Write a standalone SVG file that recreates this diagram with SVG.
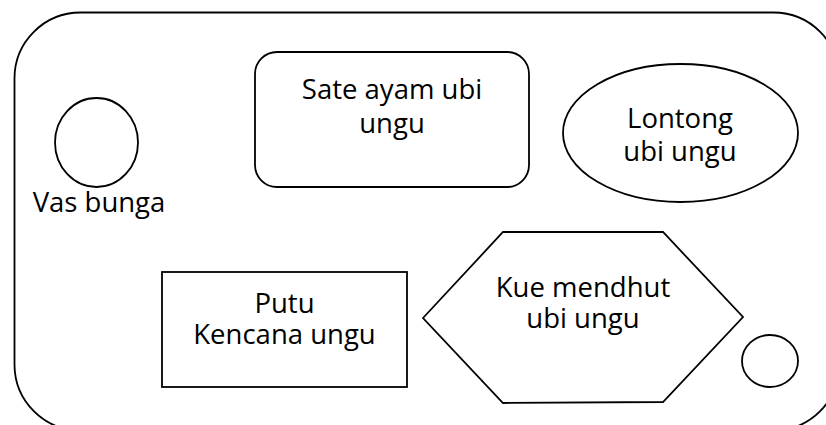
<svg xmlns="http://www.w3.org/2000/svg" width="826" height="425" viewBox="0 0 826 425">
<style>
.s{fill:#fff;stroke:#000;stroke-width:1.8}
.t{font-family:"Open Sans","Liberation Sans",sans-serif;font-size:27.5px;fill:#000;text-anchor:middle}
</style>
<rect width="826" height="425" fill="#fff"/>
<g id="frame"><rect class="s" x="14.5" y="12.5" width="825" height="418" rx="66" ry="66"/></g>
<g id="vas-bunga">
<ellipse class="s" cx="96.5" cy="142.5" rx="41.5" ry="44.5"/>
<text class="t" x="99" y="212">Vas bunga</text>
</g>
<g id="sate">
<rect class="s" x="255" y="52" width="274" height="135" rx="22" ry="22"/>
<text class="t" x="392" y="99">Sate ayam ubi</text>
<text class="t" x="392" y="133">ungu</text>
</g>
<g id="lontong">
<ellipse class="s" cx="680.5" cy="133" rx="117.5" ry="69"/>
<text class="t" x="680" y="128">Lontong</text>
<text class="t" x="680" y="161">ubi ungu</text>
</g>
<g id="putu">
<rect class="s" x="162" y="272" width="245" height="115"/>
<text class="t" x="284.5" y="313">Putu</text>
<text class="t" x="284.5" y="344">Kencana ungu</text>
</g>
<g id="kue">
<polygon class="s" points="423,318 503,232 663,232 743,317 663,402 503,403"/>
<text class="t" x="583" y="297">Kue mendhut</text>
<text class="t" x="583" y="328">ubi ungu</text>
</g>
<g id="small-circle"><ellipse class="s" cx="770" cy="361" rx="28" ry="26"/></g>
<g id="connectors"/>
</svg>
